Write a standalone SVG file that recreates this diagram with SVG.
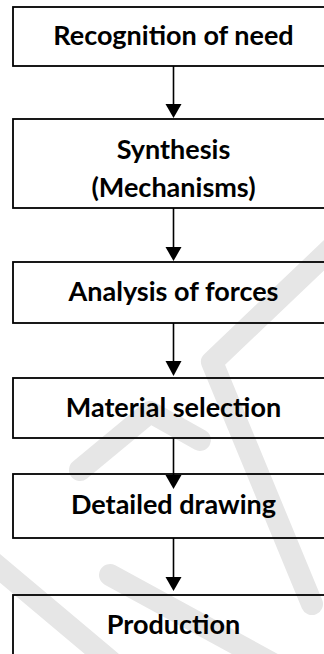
<svg xmlns="http://www.w3.org/2000/svg" width="324" height="654" viewBox="0 0 324 654">
<style>
.box{fill:none;stroke:#000;stroke-width:1.8}
.lbl{font-family:Lato,"Open Sans","Liberation Sans",sans-serif;font-weight:bold;font-size:27px;fill:#000;text-anchor:middle}
.wm{fill:none;stroke:#e6e6e6;stroke-width:22;stroke-linecap:round;stroke-linejoin:round}
.con{stroke:#000;stroke-width:1.6}
.head{fill:#000}
</style>
<rect width="324" height="654" fill="#fff"/>
<g id="watermark">
<path class="wm" d="M340,240 L212,362 L312,604"/>
<path class="wm" d="M80,470 L150,412 L200,440"/>
<path class="wm" d="M-10,560 L115,665"/>
<path class="wm" d="M110,575 L275,665"/>
</g>
<g id="connectors">
<line class="con" x1="173.5" y1="66" x2="173.5" y2="105"/>
<polygon class="head" points="165.5,104 181.5,104 173.5,118"/>
<line class="con" x1="173.5" y1="208" x2="173.5" y2="248"/>
<polygon class="head" points="165.5,247 181.5,247 173.5,261"/>
<line class="con" x1="173.5" y1="323" x2="173.5" y2="362"/>
<polygon class="head" points="165.5,361 181.5,361 173.5,376"/>
<line class="con" x1="173.5" y1="438" x2="173.5" y2="476"/>
<polygon class="head" points="165.5,475 181.5,475 173.5,489"/>
<line class="con" x1="173.5" y1="538" x2="173.5" y2="578"/>
<polygon class="head" points="165.5,577 181.5,577 173.5,591"/>
</g>
<g id="n1"><rect class="box" x="13" y="7" width="322" height="59"/><text class="lbl" x="173.5" y="45">Recognition of need</text></g>
<g id="n2"><rect class="box" x="13" y="119" width="322" height="89"/><text class="lbl" x="173.5" y="159">Synthesis</text><text class="lbl" x="173.5" y="197">(Mechanisms)</text></g>
<g id="n3"><rect class="box" x="13" y="262" width="322" height="61"/><text class="lbl" x="173.5" y="301">Analysis of forces</text></g>
<g id="n4"><rect class="box" x="13" y="378" width="322" height="60"/><text class="lbl" x="173.5" y="417">Material selection</text></g>
<g id="n5"><rect class="box" x="13" y="474" width="322" height="64"/><text class="lbl" x="173.5" y="514">Detailed drawing</text></g>
<g id="n6"><rect class="box" x="13" y="595" width="322" height="60"/><text class="lbl" x="173.5" y="634">Production</text></g>
</svg>
